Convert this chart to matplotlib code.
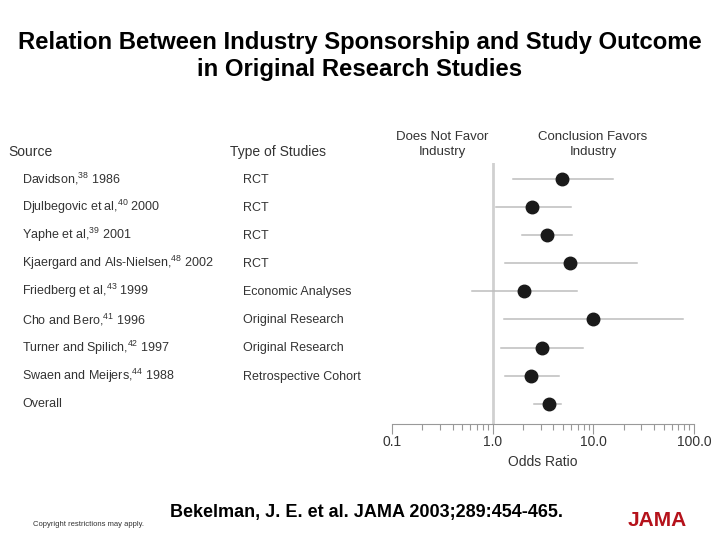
import matplotlib
matplotlib.use("Agg")
import matplotlib.pyplot as plt
from matplotlib.transforms import blended_transform_factory
from matplotlib.ticker import FixedLocator, NullFormatter

plt.rcParams['font.family'] = ['Liberation Sans', 'DejaVu Sans']

# dados
fontes = ["Davidson,$^{\\mathregular{38}}$ 1986",
          "Djulbegovic et al,$^{\\mathregular{40}}$ 2000",
          "Yaphe et al,$^{\\mathregular{39}}$ 2001",
          "Kjaergard and Als-Nielsen,$^{\\mathregular{48}}$ 2002",
          "Friedberg et al,$^{\\mathregular{43}}$ 1999",
          "Cho and Bero,$^{\\mathregular{41}}$ 1996",
          "Turner and Spilich,$^{\\mathregular{42}}$ 1997",
          "Swaen and Meijers,$^{\\mathregular{44}}$ 1988",
          "Overall"]
tipos = ["RCT", "RCT", "RCT", "RCT", "Economic Analyses", "Original Research",
         "Original Research", "Retrospective Cohort", ""]
odds = [4.9, 2.47, 3.45, 5.9, 2.03, 9.85, 3.08, 2.43, 3.6]
ic_inf = [1.58, 1.07, 1.95, 1.32, 0.63, 1.29, 1.21, 1.33, 2.6]
ic_sup = [15.8, 6.0, 6.2, 26.9, 6.9, 77.0, 7.9, 4.6, 4.8]
ticks = [0.1, 1.0, 10.0, 100.0]
tick_labels = ["0.1", "1.0", "10.0", "100.0"]

fig = plt.figure(figsize=(7.2, 5.4), dpi=100)
ax = fig.add_axes([392/720, 1-424/540, 302/720, (424-163)/540])

texto = '#333333'
cinza = '#bdbdbd'

# linha de referencia em 1
ax.axvline(1.0, color='#d0d0d0', lw=2, zorder=1)

for i in range(len(odds)):
    ax.plot([ic_inf[i], ic_sup[i]], [i, i], color=cinza, lw=1.1, zorder=2)
    ax.plot(odds[i], i, 'o', color='#1a1a1a', ms=9, zorder=3)

ax.set_xscale('log')
ax.set_xlim(0.1, 100)
ax.set_ylim(8.72, -0.57)

for s in ['top', 'right', 'left']:
    ax.spines[s].set_visible(False)
ax.spines['bottom'].set_color('#999999')
ax.spines['bottom'].set_linewidth(0.8)
ax.set_yticks([])
ax.xaxis.set_major_locator(FixedLocator(ticks))
ax.set_xticklabels(tick_labels)
menores = [m * 10.0**d for d in (-1, 0, 1) for m in range(2, 10)]
ax.xaxis.set_minor_locator(FixedLocator(menores))
ax.xaxis.set_minor_formatter(NullFormatter())
ax.tick_params(axis='x', which='major', length=7, color='#999999', width=0.8,
               labelsize=10, labelcolor=texto, pad=1)
ax.tick_params(axis='x', which='minor', length=4, color='#999999', width=0.8)
ax.set_xlabel("Odds Ratio", fontsize=10, color=texto, labelpad=4)

# colunas de texto
tr = blended_transform_factory(fig.transFigure, ax.transData)
ax.text(8/720, -0.96, "Source", transform=tr, fontsize=10, color=texto,
        va='center', ha='left')
ax.text(230/720, -0.96, "Type of Studies", transform=tr, fontsize=10, color=texto,
        va='center', ha='left')
for i in range(len(fontes)):
    ax.text(22/720, i, fontes[i], transform=tr, fontsize=9, color=texto,
            va='center', ha='left')
    ax.text(243/720, i + 0.03, tipos[i], transform=tr, fontsize=9, color=texto,
            va='center', ha='left')

fig.text(442/720, 1-144.5/540, "Does Not Favor\nIndustry", fontsize=9.5, color=texto,
         ha='center', va='center', linespacing=1.3)
fig.text(593/720, 1-144.5/540, "Conclusion Favors\nIndustry", fontsize=9.5, color=texto,
         ha='center', va='center', linespacing=1.3)

fig.text(0.5, 1-56/540, "Relation Between Industry Sponsorship and Study Outcome\nin Original Research Studies",
         fontsize=17.2, fontweight='bold', ha='center', va='center', color='black',
         linespacing=1.2)

fig.text(366/720, 1-513/540, "Bekelman, J. E. et al. JAMA 2003;289:454-465.",
         fontsize=13, fontweight='bold', ha='center', va='center')
fig.text(33/720, 1-525/540, "Copyright restrictions may apply.", fontsize=5.5,
         ha='left', va='center', color='#333333')
fig.text(657/720, 1-520/540, "JAMA", fontsize=15, fontweight='bold',
         color='#b5121b', ha='center', va='center')

fig.savefig("out.png", dpi=100)
